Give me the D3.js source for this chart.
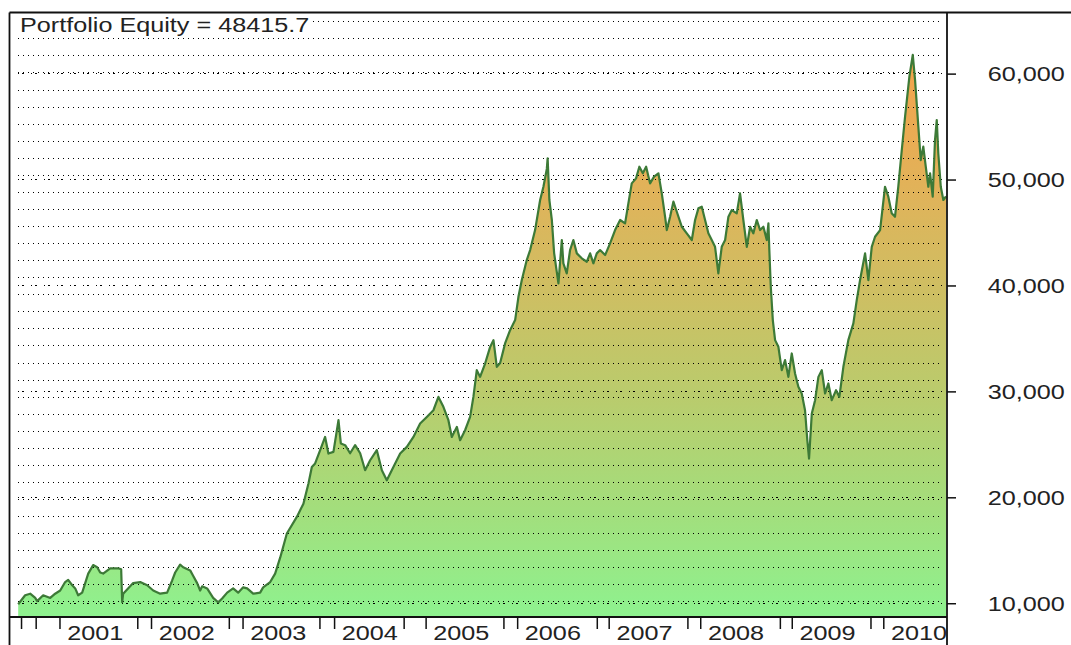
<!DOCTYPE html>
<html>
<head>
<meta charset="utf-8">
<script src="https://cdn.jsdelivr.net/npm/d3@7"></script>
<style>
body { margin: 0; background: #fff; }
text { font-family: "Liberation Sans", Arial, sans-serif; fill: #222; }
</style>
</head>
<body>
<div id="my_chart"></div>
<script>
// equity curve, x in decimal years
var years = [
  2000.549, 2000.625, 2000.680, 2000.735, 2000.756, 2000.822, 2000.899, 2000.953,
  2001.008, 2001.062, 2001.095, 2001.139, 2001.172, 2001.204, 2001.248, 2001.281, 2001.314, 2001.368, 2001.412,
  2001.445, 2001.477, 2001.554, 2001.641, 2001.674, 2001.685, 2001.696, 2001.805, 2001.882, 2001.958,
  2002.024, 2002.100, 2002.176, 2002.231, 2002.264, 2002.318, 2002.351, 2002.428, 2002.460, 2002.504,
  2002.537, 2002.559, 2002.613, 2002.679, 2002.734, 2002.777, 2002.832, 2002.897, 2002.952,
  2003.007, 2003.050, 2003.116, 2003.192, 2003.225, 2003.302, 2003.356, 2003.411, 2003.484, 2003.593,
  2003.665, 2003.720, 2003.757, 2003.793, 2003.848, 2003.902, 2003.938, 2003.993,
  2004.048, 2004.074, 2004.121, 2004.175, 2004.230, 2004.285, 2004.339, 2004.394, 2004.467, 2004.522,
  2004.576, 2004.648, 2004.722, 2004.795, 2004.867, 2004.940,
  2005.013, 2005.085, 2005.140, 2005.194, 2005.249, 2005.286, 2005.341, 2005.377, 2005.431, 2005.486,
  2005.522, 2005.559, 2005.595, 2005.650, 2005.705, 2005.741, 2005.778, 2005.814, 2005.868, 2005.923, 2005.978,
  2006.014, 2006.051, 2006.105, 2006.142, 2006.196, 2006.251, 2006.287, 2006.324, 2006.333, 2006.352,
  2006.379, 2006.404, 2006.425, 2006.451, 2006.488, 2006.505, 2006.542, 2006.578, 2006.614, 2006.652,
  2006.706, 2006.761, 2006.797, 2006.833, 2006.870, 2006.906, 2006.961,
  2007.015, 2007.070, 2007.125, 2007.179, 2007.215, 2007.252, 2007.299, 2007.335, 2007.373, 2007.409,
  2007.452, 2007.496, 2007.543, 2007.580, 2007.616, 2007.635, 2007.671, 2007.707, 2007.744, 2007.799,
  2007.853, 2007.908, 2007.944, 2007.980,
  2008.017, 2008.053, 2008.089, 2008.126, 2008.162, 2008.198, 2008.235, 2008.272, 2008.308, 2008.345,
  2008.399, 2008.435, 2008.471, 2008.509, 2008.545, 2008.580, 2008.618, 2008.654, 2008.690, 2008.727,
  2008.745, 2008.755, 2008.771, 2008.793, 2008.818, 2008.854, 2008.891, 2008.927, 2008.963,
  2009.000, 2009.036, 2009.072, 2009.109, 2009.145, 2009.170, 2009.189, 2009.219, 2009.255, 2009.291,
  2009.328, 2009.364, 2009.400, 2009.437, 2009.484, 2009.520, 2009.564, 2009.618, 2009.673, 2009.710,
  2009.746, 2009.801, 2009.837, 2009.874, 2009.910, 2009.965,
  2010.019, 2010.055, 2010.092, 2010.128, 2010.164, 2010.202, 2010.238, 2010.285, 2010.322, 2010.347,
  2010.383, 2010.409, 2010.437, 2010.464, 2010.492, 2010.511, 2010.540, 2010.565, 2010.584, 2010.601,
  2010.628, 2010.656, 2010.685
];
var equity = [
  9900, 10750, 10900, 10500, 10200, 10750, 10500, 10900,
  11200, 12000, 12200, 11700, 11400, 10750, 11000, 11900, 12800, 13600, 13400,
  12900, 12800, 13300, 13300, 13200, 10100, 10900, 11900, 12000, 11700,
  11200, 10900, 11000, 12150, 12900, 13650, 13400, 13100, 12600, 11900,
  11200, 11600, 11400, 10500, 10080, 10450, 11000, 11400, 11000,
  11500, 11400, 10900, 11000, 11500, 12000, 12800, 14300, 16580, 18150,
  19400, 21300, 22870, 23200, 24450, 25700, 24130, 24290,
  27280, 25080, 24920, 24160, 24920, 24160, 22560, 23500, 24450, 22560,
  21610, 22870, 24130, 24760, 25700, 26960,
  27590, 28220, 29480, 28540, 27280, 25700, 26650, 25390, 26330, 27590,
  29480, 32000, 31370, 32630, 34200, 34840, 32320, 32670, 34530, 35780, 36730,
  38930, 40510, 42400, 43340, 45230, 48070, 49320, 51000, 52000, 48070,
  46180, 43060, 41760, 40200, 44290, 42090, 41140, 43340, 44290, 43030,
  42560, 42240, 43030, 42090, 43030, 43340, 42870,
  43970, 45230, 46180, 45860, 47750, 49640, 50110, 51210, 50590, 51210,
  49640, 50270, 50590, 48700, 46490, 45230, 46490, 47910, 46960, 45540,
  44920, 44290, 46180, 47280,
  47430, 46180, 44920, 44290, 43650, 41140, 43650, 44290, 46490, 47120,
  46810, 48700, 46180, 43650, 45540, 44920, 46180, 45230, 45540, 44290,
  45860, 43340, 39870, 36730, 34840, 34210, 32000, 32950, 31370,
  33580, 31690, 30430, 29800, 28220, 25390, 23660, 27910, 29170, 31370,
  32000, 29800, 30750, 29170, 30110, 29480, 32320, 34840, 36420, 38620,
  40510, 43030, 40510, 43650, 44600, 45230,
  49320, 48380, 46810, 46490, 49320, 52790, 55940, 59720, 61770, 59400,
  54990, 51840, 53100, 51210, 49320, 50590, 48380, 53730, 55620, 52480,
  49320, 48070, 48415.7
];
var yearTicks = [2001, 2002, 2003, 2004, 2005, 2006, 2007, 2008, 2009, 2010];
var minorTicks = [2000.58, 2000.74, 2001.85, 2002.85, 2003.84, 2004.76, 2005.85, 2006.87, 2007.86, 2008.87, 2009.86];
var valueTicks = [10000, 20000, 30000, 40000, 50000, 60000];
var title = "Portfolio Equity = 48415.7";

// set margin, width & height
var margin = {top: 12.5, right: 124, bottom: 28, left: 9.5},
    width = 1071 - margin.left - margin.right,
    height = 645 - margin.top - margin.bottom;

var root = d3.select("#my_chart")
    .append("svg")
    .attr("width", 1071)
    .attr("height", 645);

var svg = root.append("g")
    .attr("transform", "translate(" + margin.left + "," + margin.top + ")");

var sx = 1.2; // text in the picture is stretched sideways

// scales
var x = d3.scaleLinear().domain([2000.454, 2010.696]).range([0, width]);
var y = d3.scaleLinear().domain([8700, 65770]).range([height, 0]);

var data = d3.zip(years, equity);

// gradient fill, orange at top to light green at the bottom
var grad = root.append("defs").append("linearGradient")
    .attr("id", "eqFill")
    .attr("gradientUnits", "userSpaceOnUse")
    .attr("x1", 0).attr("x2", 0)
    .attr("y1", 0).attr("y2", height);
[[0, "#f6a04a"], [0.12, "#f0a64e"], [0.3, "#e0b35a"], [0.47, "#cdbf63"],
 [0.64, "#b9cc6d"], [0.82, "#a3de7c"], [1, "#8ef28f"]].forEach(function(s) {
    grad.append("stop").attr("offset", s[0]).attr("stop-color", s[1]);
});

// area
svg.append("path")
    .datum(data)
    .attr("fill", "url(#eqFill)")
    .attr("d", d3.area()
        .x(function(d) { return x(d[0]); })
        .y0(height)
        .y1(function(d) { return y(d[1]); }));

// dotted grid (fine lines every ~1611, plus lines at the labelled values)
var gridValues = d3.range(10120, 65770, 1611);
svg.append("g").selectAll("line")
    .data(gridValues)
    .enter().append("line")
    .attr("x1", 8).attr("x2", width - 4)
    .attr("y1", function(d) { return Math.round(y(d)); })
    .attr("y2", function(d) { return Math.round(y(d)); })
    .attr("stroke", "#000")
    .attr("stroke-width", 1)
    .attr("stroke-dasharray", "1,4")
    .attr("shape-rendering", "crispEdges");

svg.append("g").selectAll("line")
    .data(valueTicks)
    .enter().append("line")
    .attr("x1", 8).attr("x2", width - 4)
    .attr("y1", function(d) { return Math.round(y(d)); })
    .attr("y2", function(d) { return Math.round(y(d)); })
    .attr("stroke", "#000")
    .attr("stroke-width", 1)
    .attr("stroke-dasharray", "1,3,2,7")
    .attr("shape-rendering", "crispEdges");

// equity line
svg.append("path")
    .datum(data)
    .attr("fill", "none")
    .attr("stroke", "#3d7a37")
    .attr("stroke-width", 2.2)
    .attr("stroke-linejoin", "round")
    .attr("d", d3.line()
        .x(function(d) { return x(d[0]); })
        .y(function(d) { return y(d[1]); }));

// title with white box
svg.append("rect")
    .attr("x", 0.5).attr("y", 0.5)
    .attr("width", 303).attr("height", 21)
    .attr("fill", "#fff");
svg.append("text")
    .attr("transform", "translate(10.5,19) scale(" + sx + ",1)")
    .attr("font-size", 21)
    .text(title);

// X axis
var xAxis = svg.append("g")
    .attr("transform", "translate(0," + height + ")")
    .call(d3.axisBottom(x).tickValues(yearTicks).tickSize(12).tickFormat(d3.format("d")))
    .attr("font-size", 21);
xAxis.select(".domain").remove();
xAxis.selectAll("line").attr("stroke", "#111").attr("stroke-width", 1.5);
xAxis.selectAll("text")
    .attr("text-anchor", "start")
    .attr("x", 6).attr("y", 23).attr("dy", 0)
    .attr("transform", "scale(" + sx + ",1)");

var xMinor = svg.append("g")
    .attr("transform", "translate(0," + height + ")")
    .call(d3.axisBottom(x).tickValues(minorTicks).tickSize(12).tickFormat(""));
xMinor.select(".domain").remove();
xMinor.selectAll("line").attr("stroke", "#111").attr("stroke-width", 1.5);

// Y axis on the right
var yAxis = svg.append("g")
    .attr("transform", "translate(" + width + ",0)")
    .call(d3.axisRight(y).tickValues(valueTicks).tickSize(9).tickFormat(d3.format(",")))
    .attr("font-size", 21);
yAxis.select(".domain").remove();
yAxis.selectAll("line").attr("stroke", "#111").attr("stroke-width", 1.5);
yAxis.selectAll("text")
    .attr("x", 34)
    .attr("dy", "0.35em")
    .attr("transform", "scale(" + sx + ",1)");

// frame
var frame = root.append("g").attr("stroke", "#111").attr("stroke-width", 1.8);
frame.append("line").attr("x1", margin.left).attr("x2", 1071).attr("y1", margin.top).attr("y2", margin.top);
frame.append("line").attr("x1", margin.left).attr("x2", margin.left).attr("y1", margin.top).attr("y2", 645);
frame.append("line").attr("x1", margin.left + width).attr("x2", margin.left + width).attr("y1", margin.top).attr("y2", 645);
frame.append("line").attr("x1", margin.left).attr("x2", margin.left + width).attr("y1", margin.top + height).attr("y2", margin.top + height);
</script>
</body>
</html>
